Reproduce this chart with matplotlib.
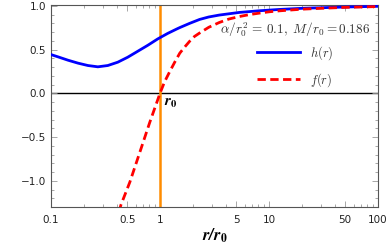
import matplotlib
matplotlib.use('Agg')
import matplotlib.pyplot as plt
from matplotlib.ticker import FixedLocator, NullFormatter, MultipleLocator

plt.rcParams['mathtext.fontset'] = 'cm'

# h(r)
r_h = [0.1, 0.116, 0.143, 0.177, 0.218, 0.269, 0.332, 0.41, 0.506, 0.625,
       0.772, 0.953, 1.176, 1.421, 1.52, 1.87, 2.31, 2.8, 3.5, 5.34, 8.14,
       12.4, 20, 50, 100]
h_vals = [0.443, 0.417, 0.379, 0.345, 0.318, 0.303, 0.318, 0.356, 0.413, 0.481,
          0.549, 0.622, 0.685, 0.735, 0.752, 0.80, 0.845, 0.873, 0.895, 0.925,
          0.944, 0.959, 0.972, 0.987, 0.995]

# f(r)
r_f = [0.42, 0.437, 0.529, 0.653, 0.805, 1.0, 1.1, 1.23, 1.37, 1.52, 1.7,
       1.87, 2.07, 2.31, 2.8, 3.5, 4.3, 5.34, 6.6, 8.14, 10, 12.4, 20, 30,
       50, 100]
f_vals = [-1.36, -1.28, -1.015, -0.674, -0.333, 0.0, 0.13, 0.25, 0.36, 0.46,
          0.535, 0.595, 0.65, 0.69, 0.755, 0.81, 0.85, 0.878, 0.90, 0.917,
          0.932, 0.943, 0.962, 0.972, 0.983, 0.992]

x_ticks = [0.1, 0.5, 1, 5, 10, 50, 100]
x_labels = ['0.1', '0.5', '1', '5', '10', '50', '100']
y_ticks = [-1.0, -0.5, 0.0, 0.5, 1.0]
y_labels = ['\u22121.0', '\u22120.5', '0.0', '0.5', '1.0']

fig = plt.figure(figsize=(3.88, 2.5), dpi=100)
ax = fig.add_axes([51/388, 1 - 207/250, 327/388, 202/250])

ax.axhline(0, color='black', lw=1.0, zorder=1)
ax.axvline(1, color='#ff8c00', lw=1.8, zorder=2)
ax.plot(r_h, h_vals, color='blue', lw=2.0, label=r'$h(r)$', zorder=3)
ax.plot(r_f, f_vals, color='red', lw=2.0, ls=(0, (3, 1.6)), label=r'$f(r)$', zorder=4)

ax.set_xscale('log')
ax.set_xlim(0.1, 100)
ax.set_ylim(-1.3, 1.01)

ax.xaxis.set_major_locator(FixedLocator(x_ticks))
ax.set_xticklabels(x_labels)
ax.xaxis.set_minor_locator(FixedLocator(
    [m * 10.0**e for e in (-1, 0, 1) for m in range(2, 10) if m != 5]))
ax.xaxis.set_minor_formatter(NullFormatter())
ax.set_yticks(y_ticks)
ax.set_yticklabels(y_labels)
ax.yaxis.set_minor_locator(MultipleLocator(0.1))

ax.tick_params(which='both', direction='in', top=True, right=True,
               color='#999999', labelsize=7.5, labelcolor='#222222', width=0.6)
ax.tick_params(which='major', length=4)
ax.tick_params(which='minor', length=2)
ax.tick_params(axis='x', pad=6)
for s in ax.spines.values():
    s.set_color('#555555')
    s.set_linewidth(0.8)

ax.text(1.08, -0.02, r'$\mathbfit{r}_{\mathbf{0}}$', fontsize=11, va='top', ha='left',
        math_fontfamily='stix')
ax.set_xlabel(r'$\mathbfit{r/r}_{\mathbf{0}}$', fontsize=12, labelpad=1,
              math_fontfamily='stix')

ax.text(0.976, 0.88, r'$\alpha/r_0^2\,=\,0.1,\ M/r_0=0.186$', transform=ax.transAxes,
        ha='right', va='center', fontsize=9.5, color='#333333')
leg = ax.legend(loc='upper right', bbox_to_anchor=(0.878, 0.83), borderaxespad=0,
                frameon=False, fontsize=9, handlelength=3.4, labelspacing=0.7,
                handletextpad=0.8)
for t in leg.get_texts():
    t.set_color('#333333')

fig.savefig('out.png', dpi=100)
